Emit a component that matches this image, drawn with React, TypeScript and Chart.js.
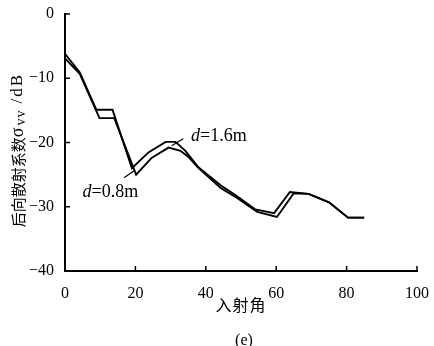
import React, { useEffect, useRef } from "react";
import { Chart, registerables } from "chart.js";

Chart.register(...registerables);

const xTicks = [0, 20, 40, 60, 80, 100];
const yTicks = [0, -10, -20, -30, -40];

const angles16 = [0, 4.2, 8.9, 13.5, 19, 23.8, 28.6, 31.4, 34.2, 37.8, 44.3, 48.5, 54, 59.4, 63.9, 69.2, 75, 80.4, 85];
const sigma16 = [-6.2, -9.1, -14.9, -14.9, -24, -21.5, -19.9, -19.9, -21.3, -23.8, -26.7, -28.2, -30.4, -31, -27.7, -28, -29.3, -31.7, -31.7];

const angles08 = [0, 4.2, 9.8, 14, 20.2, 24.6, 29.4, 32.8, 35, 37.8, 44.3, 48.8, 54.6, 60.2, 65, 69.2, 75, 80.4, 85];
const sigma08 = [-6.9, -9.3, -16.2, -16.2, -25, -22.4, -20.8, -21.3, -22.2, -23.9, -27.1, -28.6, -30.8, -31.6, -27.9, -28, -29.3, -31.7, -31.7];

const label16 = { text: "=1.6m", x: 35.8, y: -19.1, lx1: 33.6, ly1: -19.4, lx2: 30.3, ly2: -20.5 };
const label08 = { text: "=0.8m", x: 5, y: -27.7, lx1: 16.8, ly1: -25.5, lx2: 19.6, ly2: -24.4 };

const xTitle = "入射角";
const yTitleMain = "后向散射系数";
const yTitleSigma = "σ";
const yTitleSub = "vv";
const yTitleUnit = "/dB";
const caption = "(e)";

const SERIF = "'Liberation Serif', 'DejaVu Serif', serif";
const CJK = "'Noto Sans CJK SC', sans-serif";

const annotatePlugin = {
  id: "annotate",
  afterDraw(chart: any) {
    const { ctx, chartArea, scales } = chart;
    const xs = scales.x;
    const ys = scales.y;
    ctx.save();
    ctx.strokeStyle = "#000";
    ctx.fillStyle = "#000";
    // inward ticks
    ctx.lineWidth = 1.5;
    xTicks.forEach((v) => {
      if (v === 0) return;
      const px = xs.getPixelForValue(v);
      ctx.beginPath();
      ctx.moveTo(px, chartArea.bottom);
      ctx.lineTo(px, chartArea.bottom - 5);
      ctx.stroke();
    });
    yTicks.forEach((v) => {
      if (v === -40) return;
      const py = ys.getPixelForValue(v);
      ctx.beginPath();
      ctx.moveTo(chartArea.left, py);
      ctx.lineTo(chartArea.left + 5, py);
      ctx.stroke();
    });
    // series labels
    [label16, label08].forEach((l) => {
      ctx.lineWidth = 1.2;
      ctx.beginPath();
      ctx.moveTo(xs.getPixelForValue(l.lx1), ys.getPixelForValue(l.ly1));
      ctx.lineTo(xs.getPixelForValue(l.lx2), ys.getPixelForValue(l.ly2));
      ctx.stroke();
      const tx = xs.getPixelForValue(l.x);
      const ty = ys.getPixelForValue(l.y);
      ctx.textBaseline = "middle";
      ctx.textAlign = "left";
      ctx.font = `italic 18px ${SERIF}`;
      ctx.fillText("d", tx, ty);
      const w = ctx.measureText("d").width;
      ctx.font = `18px ${SERIF}`;
      ctx.fillText(l.text, tx + w, ty);
    });
    // x title
    const cx = (chartArea.left + chartArea.right) / 2;
    ctx.font = `16px ${CJK}`;
    ctx.textAlign = "center";
    ctx.textBaseline = "middle";
    (ctx as any).letterSpacing = "1px";
    ctx.fillText(xTitle, cx, 305);
    (ctx as any).letterSpacing = "0px";
    // caption
    ctx.font = `16px ${SERIF}`;
    ctx.fillText(caption, cx + 3, 341);
    // y title rotated
    ctx.translate(18, 150);
    ctx.rotate(-Math.PI / 2);
    ctx.textAlign = "left";
    const parts: Array<[string, string, number, number, number]> = [
      [yTitleMain, `15px ${CJK}`, 0, 0, 0],
      [yTitleSigma, `18px ${SERIF}`, 0, 1, 1],
      [yTitleSub, `14px ${SERIF}`, 3, 1, 6],
      [yTitleUnit, `17px ${SERIF}`, 0, 2, 0],
    ];
    let total = 0;
    parts.forEach(([t, f, , ls, gap]) => {
      ctx.font = f;
      (ctx as any).letterSpacing = ls + "px";
      total += ctx.measureText(t).width + gap;
    });
    let sx = -total / 2;
    parts.forEach(([t, f, dy, ls, gap]) => {
      ctx.font = f;
      (ctx as any).letterSpacing = ls + "px";
      ctx.fillText(t, sx, dy);
      sx += ctx.measureText(t).width + gap;
    });
    (ctx as any).letterSpacing = "0px";
    ctx.restore();
  },
};

export default function App() {
  const ref = useRef<HTMLCanvasElement | null>(null);
  useEffect(() => {
    if (!ref.current) return;
    const chart = new Chart(ref.current, {
      type: "line",
      data: {
        datasets: [
          {
            label: "d=1.6m",
            data: angles16.map((a, i) => ({ x: a, y: sigma16[i] })),
            borderColor: "#000",
            borderWidth: 1.9,
            pointRadius: 0,
            tension: 0,
            fill: false,
          },
          {
            label: "d=0.8m",
            data: angles08.map((a, i) => ({ x: a, y: sigma08[i] })),
            borderColor: "#000",
            borderWidth: 1.9,
            pointRadius: 0,
            tension: 0,
            fill: false,
          },
        ],
      },
      options: {
        animation: false,
        responsive: false,
        devicePixelRatio: 1,
        layout: { padding: { top: 14, right: 12, left: 0, bottom: 0 } },
        plugins: { legend: { display: false }, tooltip: { enabled: false } },
        scales: {
          x: {
            type: "linear",
            min: 0,
            max: 100,
            afterBuildTicks: (s: any) => {
              s.ticks = xTicks.map((v) => ({ value: v }));
            },
            afterFit: (s: any) => {
              s.height = 75;
            },
            grid: { display: false },
            border: { display: true, color: "#000", width: 2 },
            ticks: {
              color: "#000",
              font: { family: SERIF, size: 16 },
              padding: 5,
              maxRotation: 0,
              autoSkip: false,
            },
          },
          y: {
            type: "linear",
            min: -40,
            max: 0,
            afterBuildTicks: (s: any) => {
              s.ticks = yTicks.map((v) => ({ value: v }));
            },
            afterFit: (s: any) => {
              s.width = 65;
            },
            grid: { display: false },
            border: { display: true, color: "#000", width: 2 },
            ticks: {
              color: "#000",
              font: { family: SERIF, size: 16 },
              padding: 3,
              callback: (v: any) => (Number(v) < 0 ? "−" + Math.abs(Number(v)) : String(v)),
            },
          },
        },
      },
      plugins: [annotatePlugin],
    });
    return () => chart.destroy();
  }, []);
  return (
    <div style={{ position: "fixed", left: 0, top: 0, width: 434, height: 346, background: "#fff" }}>
      <canvas ref={ref} width={434} height={346} style={{ width: 434, height: 346 }} />
    </div>
  );
}
